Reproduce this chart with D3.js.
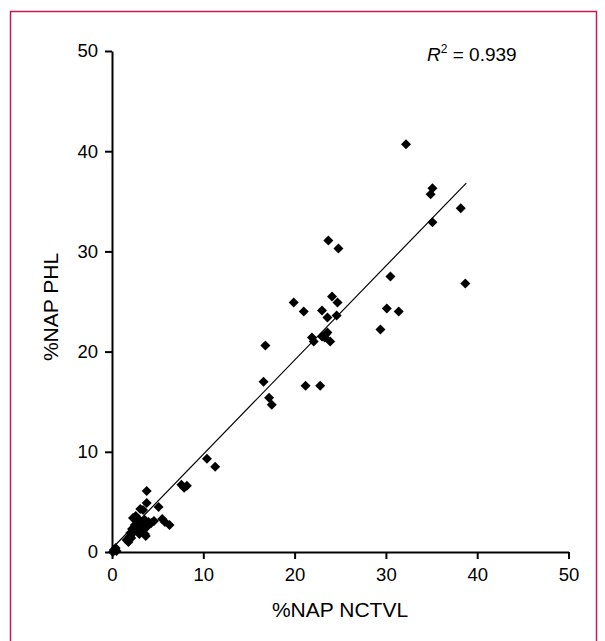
<!DOCTYPE html>
<html lang="en">
<head>
<meta charset="UTF-8">
<title>%NAP NCTVL vs %NAP PHL</title>
<script src="https://cdn.jsdelivr.net/npm/d3@7"></script>
<style>
  body { margin: 0; background: #fff; }
  text { font-family: "Liberation Sans", Arial, sans-serif; fill: #000; }
</style>
</head>
<body>
<div id="viz"></div>
<script>
var nctvl = [32.2, 35.1, 34.9, 38.2, 35.1, 38.7, 30.5, 30.1, 31.4, 29.4,
             23.7, 24.8, 24.1, 24.7, 24.6, 23.6, 23.0, 19.9, 21.0, 21.9,
             22.1, 23.4, 23.3, 23.6, 23.9, 23.0, 16.8, 16.6, 17.2, 17.5,
             21.2, 22.8, 10.4, 11.3, 7.6, 8.2, 7.9, 3.8, 3.8, 5.1,
             3.1, 3.4, 6.3, 5.5, 5.8, 4.6,
             1.6, 1.9, 2.0, 2.2, 2.4, 2.5, 2.7, 2.8, 3.0, 3.2,
             3.3, 3.5, 3.6, 3.8, 4.0, 4.3, 2.3, 2.6, 2.1, 3.0,
             3.6, 3.7, 1.8, 2.9, 0.2, 0.4, 0.1, 0.5];
var phl   = [40.7, 36.3, 35.7, 34.3, 32.9, 26.8, 27.5, 24.3, 24.0, 22.2,
             31.1, 30.3, 25.5, 24.9, 23.6, 23.4, 24.1, 24.9, 24.0, 21.4,
             21.0, 21.7, 21.4, 21.9, 21.0, 21.5, 20.6, 17.0, 15.4, 14.7,
             16.6, 16.6, 9.3, 8.5, 6.7, 6.6, 6.4, 6.1, 4.9, 4.5,
             4.3, 4.2, 2.7, 3.3, 3.0, 3.1,
             1.2, 1.5, 1.9, 2.3, 2.0, 2.7, 2.4, 3.0, 2.6, 2.9,
             2.2, 2.8, 3.2, 2.5, 3.0, 2.9, 3.4, 3.6, 1.4, 1.8,
             1.8, 1.6, 1.0, 3.3, 0.2, 0.4, 0.0, 0.1];

var ticks = [0, 10, 20, 30, 40, 50];
var fitSlope = 0.94, fitIntercept = 0.35, fitRange = [0, 38.8];
var rSquared = "0.939";

var W = 605, H = 641;

var svg = d3.select("#viz").append("svg")
    .attr("width", W)
    .attr("height", H);

// frame
svg.append("rect")
    .attr("x", 10.5).attr("y", 11.5)
    .attr("width", 586).attr("height", 660)
    .attr("fill", "none")
    .attr("stroke", "#c81a4e")
    .attr("stroke-width", 1.5);

var x = d3.scaleLinear().domain([0, 50]).range([112, 568.5]);
var y = d3.scaleLinear().domain([0, 50]).range([552, 51]);

var xAxis = svg.append("g")
    .attr("transform", "translate(0," + y(0) + ")")
    .call(d3.axisBottom(x).tickValues(ticks).tickSize(7).tickSizeOuter(0).tickPadding(9));
var yAxis = svg.append("g")
    .attr("transform", "translate(" + x(0) + ",0)")
    .call(d3.axisLeft(y).tickValues(ticks).tickSize(7).tickSizeOuter(0).tickPadding(7));

[xAxis, yAxis].forEach(function(a){
    a.select(".domain").attr("stroke", "#000").attr("stroke-width", 2);
    a.selectAll(".tick line").attr("stroke", "#000").attr("stroke-width", 2);
    a.selectAll(".tick text")
        .style("font-family", '"Liberation Sans", Arial, sans-serif')
        .style("font-size", "18.5px")
        .attr("fill", "#000");
});

// axis titles
svg.append("text")
    .attr("x", 340)
    .attr("y", 617)
    .attr("text-anchor", "middle")
    .style("font-size", "21px")
    .text("%NAP NCTVL");

svg.append("text")
    .attr("transform", "translate(58,307) rotate(-90)")
    .attr("text-anchor", "middle")
    .style("font-size", "21px")
    .text("%NAP PHL");

// fitted line
svg.append("line")
    .attr("x1", x(fitRange[0])).attr("y1", y(fitSlope * fitRange[0] + fitIntercept))
    .attr("x2", x(fitRange[1])).attr("y2", y(fitSlope * fitRange[1] + fitIntercept))
    .attr("stroke", "#000")
    .attr("stroke-width", 1.2);

// diamonds
var pts = nctvl.map(function(v, i){ return {x: v, y: phl[i]}; });
svg.append("g").selectAll("path")
    .data(pts)
    .enter().append("path")
    .attr("d", "M0,-5L5,0L0,5L-5,0Z")
    .attr("transform", function(d){ return "translate(" + x(d.x) + "," + y(d.y) + ")"; })
    .attr("fill", "#000");

// R^2 annotation
var r2 = svg.append("text")
    .attr("x", 427)
    .attr("y", 61)
    .style("font-size", "19px");
r2.append("tspan").style("font-style", "italic").text("R");
r2.append("tspan").attr("dy", -8).style("font-size", "12px").text("2");
r2.append("tspan").attr("dy", 8).text(" = " + rSquared);
</script>
</body>
</html>
